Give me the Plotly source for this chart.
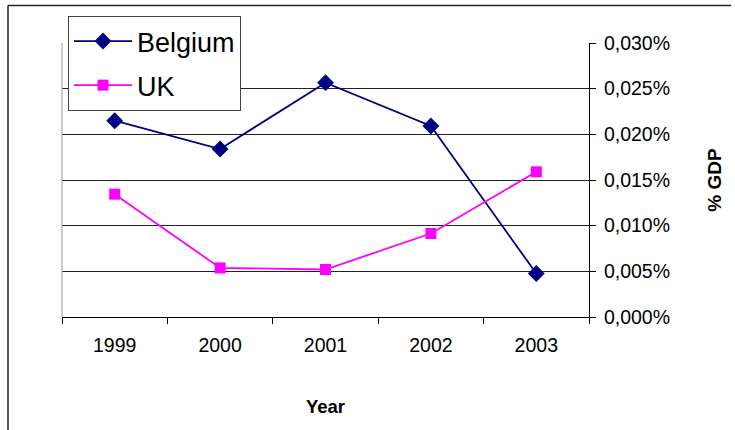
import plotly.graph_objects as go

years = ["1999", "2000", "2001", "2002", "2003"]
belgium = [0.02149, 0.01839, 0.02566, 0.02091, 0.00476]
uk = [0.01345, 0.00537, 0.00520, 0.00914, 0.01590]
y_ticks = [0.0, 0.005, 0.010, 0.015, 0.020, 0.025, 0.030]
y_tick_labels = ["0,000%", "0,005%", "0,010%", "0,015%", "0,020%", "0,025%", "0,030%"]

FONT = "Liberation Sans, Arial, sans-serif"

fig = go.Figure()
fig.add_trace(go.Scatter(
    x=years, y=belgium, name="Belgium", mode="lines+markers",
    line=dict(color="#000080", width=1.8),
    marker=dict(symbol="diamond", size=13, color="#000080"),
    legendgroup="a",
))
fig.add_trace(go.Scatter(
    x=years, y=uk, name="UK", mode="lines+markers",
    line=dict(color="#FF00FF", width=1.8),
    marker=dict(symbol="square", size=11, color="#FF00FF"),
    legendgroup="b",
))

L, R, T, B = 62, 146, 43, 113
W, H = 735, 430
pw, ph = W - L - R, H - T - B

def px_x(p):
    return (p - L) / pw

def px_y(p):
    return (H - B - p) / ph

fig.update_layout(
    width=W, height=H,
    margin=dict(l=L, r=R, t=T, b=B, pad=0, autoexpand=False),
    paper_bgcolor="white", plot_bgcolor="white",
    font=dict(family=FONT, size=19, color="black"),
    showlegend=True,
    legend=dict(
        x=px_x(68), y=px_y(16), xanchor="left", yanchor="top",
        bgcolor="white", bordercolor="#444444", borderwidth=1,
        font=dict(size=27, family=FONT),
        tracegroupgap=6,
        itemwidth=58,
    ),
    xaxis=dict(
        type="category", range=[-0.5, 4.5],
        showline=True, linecolor="black", linewidth=1,
        ticks="outside", ticklen=6, tickcolor="black", tickson="boundaries",
        showgrid=False, zeroline=False,
        tickfont=dict(size=19.5), ticklabelstandoff=11,
        title=dict(text="<b>Year</b>", font=dict(size=18.5), standoff=44),
    ),
    yaxis=dict(
        side="right", range=[0, 0.030],
        tickvals=y_ticks, ticktext=y_tick_labels,
        showline=True, linecolor="black", linewidth=1,
        ticks="outside", ticklen=6, tickcolor="black",
        showgrid=True, gridcolor="#222222", gridwidth=1,
        zeroline=False,
        tickfont=dict(size=19.5), ticklabelstandoff=4,
        title=dict(text="<b>% GDP</b>", font=dict(size=19), standoff=38),
    ),
    shapes=[
        dict(type="line", xref="paper", yref="paper", x0=0, x1=0, y0=0, y1=1,
             line=dict(color="#999999", width=1)),
        dict(type="line", xref="paper", yref="paper", x0=px_x(8), x1=px_x(731),
             y0=px_y(5.5), y1=px_y(5.5), line=dict(color="#222222", width=1.5)),
        dict(type="line", xref="paper", yref="paper", x0=px_x(8), x1=px_x(8),
             y0=px_y(5.5), y1=px_y(432), line=dict(color="#222222", width=1.5)),
    ],
)

fig.write_html(
    "out.html",
    config={"displayModeBar": False},
    post_script="document.body.style.margin='0';document.body.style.padding='0';document.body.style.overflow='hidden';",
)
